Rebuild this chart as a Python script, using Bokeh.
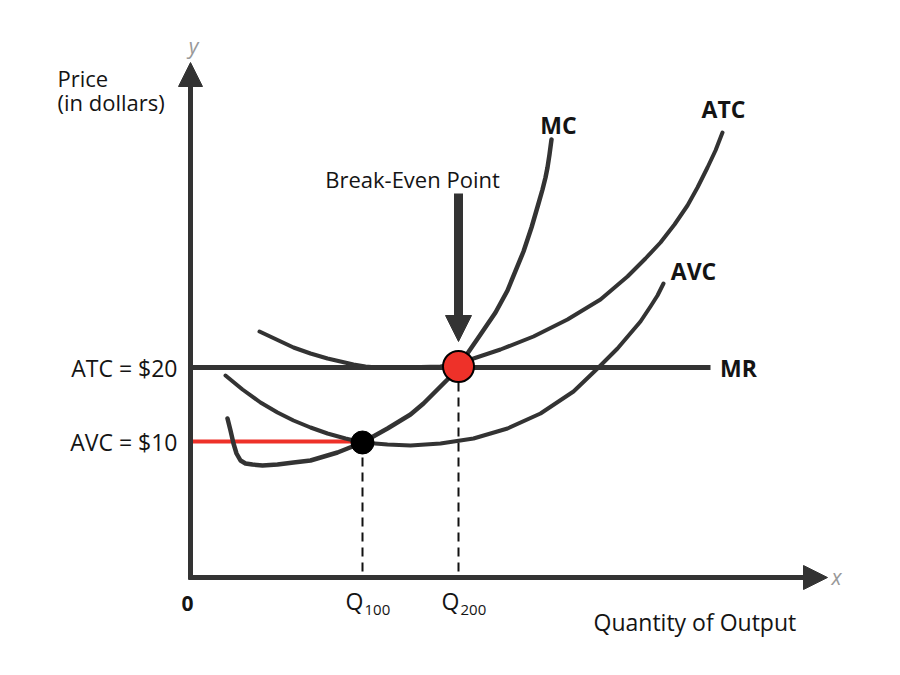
from bokeh.plotting import figure
from bokeh.models import Range1d, Arrow, NormalHead
from bokeh.core.properties import value
from bokeh.embed import file_html
from bokeh.resources import INLINE

# Diagram units (origin at the axes corner)
mc_x = [37, 40, 43, 46, 50, 55, 62, 72, 87, 103, 120, 147, 172, 197, 220, 233, 245, 257, 268, 290, 305, 317, 333, 341, 348, 352, 355, 357, 359, 361]
mc_y = [159, 147, 134, 124, 117, 114, 113, 112, 113, 115, 117, 125, 135, 149, 163, 174, 186, 198, 211, 243, 265, 287, 326, 350, 374, 388, 400, 410, 423, 438]

atc_x = [69, 86, 103, 120, 137, 150, 163, 175, 187, 210, 250, 268, 283, 310, 343, 377, 410, 437, 455, 470, 484, 497, 507, 517, 525, 532]
atc_y = [246, 238, 230, 224, 219, 216, 213, 211, 210, 210, 211, 214, 219, 228, 241, 258, 278, 301, 319, 335, 353, 372, 390, 410, 427, 445]

avc_x = [35, 52, 70, 87, 103, 120, 137, 155, 172, 197, 220, 250, 283, 317, 350, 383, 407, 427, 450, 460, 467, 473]
avc_y = [202, 188, 175, 165, 157, 150, 144, 139, 135, 133, 132, 134, 139, 149, 164, 186, 209, 229, 256, 271, 282, 294]

mr_x = [0, 520]
mr_y = [210, 210]
avc_price_x = [0, 172]
avc_price_y = [136, 136]

q_ticks = [172, 268]
q_labels = ["100", "200"]
price_ticks = [210, 136]
price_labels = ["ATC = $20", "AVC = $10"]

DARK = "#333333"
RED = "#ee3129"
TXT = "#141414"

p = figure(width=884, height=659, output_backend="svg", toolbar_location=None,
           x_range=Range1d(-190, 694), y_range=Range1d(-82, 577),
           min_border=0, outline_line_color=None)
p.xaxis.visible = False
p.yaxis.visible = False
p.grid.visible = False
p.background_fill_color = "white"

# axes with arrows
p.add_layout(Arrow(end=NormalHead(size=24, fill_color=DARK, line_color=DARK, line_width=1),
                   x_start=0, y_start=-2, x_end=0, y_end=515,
                   line_color=DARK, line_width=5))
p.add_layout(Arrow(end=NormalHead(size=24, fill_color=DARK, line_color=DARK, line_width=1),
                   x_start=-2, y_start=0, x_end=637, y_end=0,
                   line_color=DARK, line_width=5))

# dashed guides
p.segment(x0=q_ticks, y0=[135, 210], x1=q_ticks, y1=[5, 5],
          line_color="#111111", line_width=2, line_dash="9 6")

# MR line and AVC price line
p.line(mr_x, mr_y, line_color=DARK, line_width=5)
p.line(avc_price_x, avc_price_y, line_color=RED, line_width=4)

# curves
p.line(atc_x, atc_y, line_color=DARK, line_width=4, line_cap="round", line_join="round")
p.line(avc_x, avc_y, line_color=DARK, line_width=4, line_cap="round", line_join="round")
p.line(mc_x, mc_y, line_color=DARK, line_width=4.5, line_cap="round", line_join="round")

# break-even arrow
p.add_layout(Arrow(end=NormalHead(size=26, fill_color=DARK, line_color=DARK, line_width=1),
                   x_start=268, y_start=384, x_end=268, y_end=236,
                   line_color=DARK, line_width=9))

# points
p.scatter([172], [135], size=23, fill_color="black", line_color="black")
p.scatter([268], [211], size=31, fill_color=RED, line_color="black", line_width=2)

FONT = value("Open Sans")

# price labels
p.text(x=[-13, -13], y=price_ticks, text=price_labels, text_font=FONT,
       text_font_size="23px", text_align="right", text_baseline="middle",
       text_color=TXT)
p.text(x=[-133, -133], y=[500, 476], text=["Price", "(in dollars)"], text_font=FONT,
       text_font_size="22px", text_align="left", text_baseline="middle",
       text_color=TXT)

# quantity labels
p.text(x=[-3], y=[-26], text=["0"], text_font=FONT, text_font_size="21px",
       text_align="center", text_baseline="middle", text_color=TXT, text_font_style="bold")
p.text(x=[q - 17 for q in q_ticks], y=[-23, -23], text=["Q", "Q"], text_font=FONT,
       text_font_size="23px", text_align="left", text_baseline="middle", text_color=TXT)
p.text(x=[q + 2 for q in q_ticks], y=[-32, -32], text=q_labels, text_font=FONT,
       text_font_size="15px", text_align="left", text_baseline="middle", text_color=TXT)
p.text(x=[403], y=[-44], text=["Quantity of Output"], text_font=FONT,
       text_font_size="23px", text_align="left", text_baseline="middle", text_color=TXT)

# axis letters
p.text(x=[3], y=[532], text=["y"], text_font=FONT, text_font_style="italic",
       text_font_size="21px", text_align="center", text_baseline="middle", text_color="#999999")
p.text(x=[646], y=[1], text=["x"], text_font=FONT, text_font_style="italic",
       text_font_size="21px", text_align="center", text_baseline="middle", text_color="#999999")

# curve labels
p.text(x=[368, 533, 503, 548], y=[453, 469, 307, 210], text=["MC", "ATC", "AVC", "MR"],
       text_font=FONT, text_font_style="bold", text_font_size="23px",
       text_align="center", text_baseline="middle", text_color=TXT)
p.text(x=[222], y=[399], text=["Break-Even Point"], text_font=FONT,
       text_font_size="22px", text_align="center", text_baseline="middle", text_color=TXT)

html = file_html(p, INLINE)
open("out.html", "w").write(html)
